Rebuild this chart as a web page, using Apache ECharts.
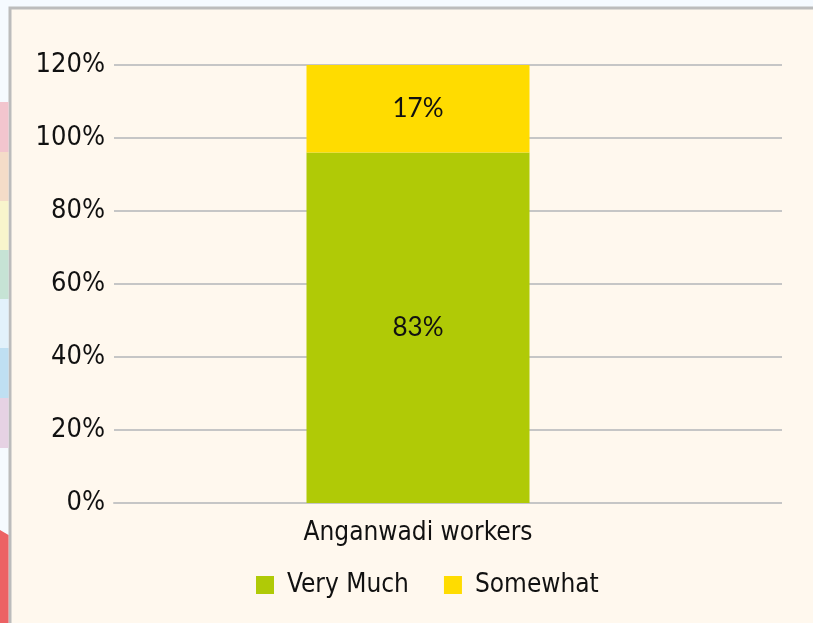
<!DOCTYPE html>
<html lang="en">
<head>
    <meta charset="UTF-8">
    <title>Anganwadi workers</title>
    <script src="https://cdn.jsdelivr.net/npm/echarts@6/dist/echarts.min.js"></script>
</head>
<style>
    *{
        margin: 0;
        padding: 0;
    }
    html , body{
        width: 100%;
        height: 100%;
        overflow: hidden;
        background: #f5faff;
    }
    .container{
        width: 813px;
        height: 623px;
    }
</style>
<body>
<div class="container"></div>
<script>
    // data
    let categories = ['Anganwadi workers'];
    let veryMuch = [96];
    let somewhat = [24];
    let veryMuchLabels = ['83%'];
    let somewhatLabels = ['17%'];
    let yTicks = [0, 20, 40, 60, 80, 100, 120];

    let narrow = '"Liberation Sans Narrow", "DejaVu Sans Condensed", sans-serif';

    // coloured strip on the left edge (decoration only)
    let strips = [
        ['#f2c5ce', 102, 152], ['#f4dcc8', 152, 201], ['#f8f5cc', 201, 250],
        ['#c6e3d5', 250, 299], ['#e2f1fb', 299, 348], ['#bfdff2', 348, 398],
        ['#e6d2e4', 398, 448]
    ];
    let graphic = [{
        type: 'rect', z: -10,
        shape: {x: 10, y: 8, width: 810, height: 620},
        style: {fill: '#fff8ee', stroke: '#bcbcbc', lineWidth: 3}
    }];
    strips.forEach(s => {
        graphic.push({type: 'rect', z: -10, shape: {x: 0, y: s[1], width: 8.5, height: s[2] - s[1]}, style: {fill: s[0]}});
    });
    graphic.push({type: 'polygon', z: -10, shape: {points: [[0, 530], [8.5, 535], [8.5, 623], [0, 623]]}, style: {fill: '#ec6264'}});

    let container = document.querySelector('.container');
    let mycharts = echarts.init(container);

    let yBase = {
        type: 'value',
        min: 0,
        max: 120,
        interval: 20,
        axisLine: {show: false},
        axisTick: {show: false}
    };

    let option = {
        animation: false,
        graphic,
        grid: [
            {left: 114, right: 91, top: 65, bottom: 120},
            {left: 114, right: 31, top: 65, bottom: 120}
        ],
        xAxis: [{
            type: 'category',
            gridIndex: 0,
            data: categories,
            axisLine: {lineStyle: {color: '#c6c6c6', width: 2}},
            axisTick: {show: false},
            axisLabel: {margin: 17, fontFamily: narrow, fontSize: 26, color: '#111'}
        }, {
            type: 'category',
            gridIndex: 1,
            data: categories,
            show: false
        }],
        yAxis: [Object.assign({}, yBase, {
            gridIndex: 0,
            splitLine: {show: false},
            axisLabel: {
                margin: 9,
                fontFamily: narrow,
                fontSize: 27,
                color: '#111',
                formatter: v => yTicks.includes(v) ? v + '%' : ''
            }
        }), Object.assign({}, yBase, {
            gridIndex: 1,
            axisLabel: {show: false},
            splitLine: {lineStyle: {color: '#c6c6c6', width: 2}}
        })],
        legend: {
            bottom: 20,
            left: 251,
            itemWidth: 18,
            itemHeight: 18,
            itemGap: 35,
            icon: 'rect',
            textStyle: {fontFamily: narrow, fontSize: 26, color: '#111', padding: [0, 0, 0, 8]},
            data: ['Very Much', 'Somewhat']
        },
        series: [{
            name: 'Very Much',
            type: 'bar',
            stack: 'total',
            barWidth: 223,
            itemStyle: {color: '#b0ca06'},
            label: {
                show: true,
                position: 'inside',
                fontFamily: 'Lato, sans-serif',
                fontSize: 26,
                color: '#111',
                formatter: p => veryMuchLabels[p.dataIndex]
            },
            data: veryMuch
        }, {
            name: 'Somewhat',
            type: 'bar',
            stack: 'total',
            barWidth: 223,
            itemStyle: {color: '#ffdc00'},
            label: {
                show: true,
                position: 'inside',
                fontFamily: 'Lato, sans-serif',
                fontSize: 26,
                color: '#111',
                formatter: p => somewhatLabels[p.dataIndex]
            },
            data: somewhat
        }]
    };
    mycharts.setOption(option);
</script>

</body>
</html>
